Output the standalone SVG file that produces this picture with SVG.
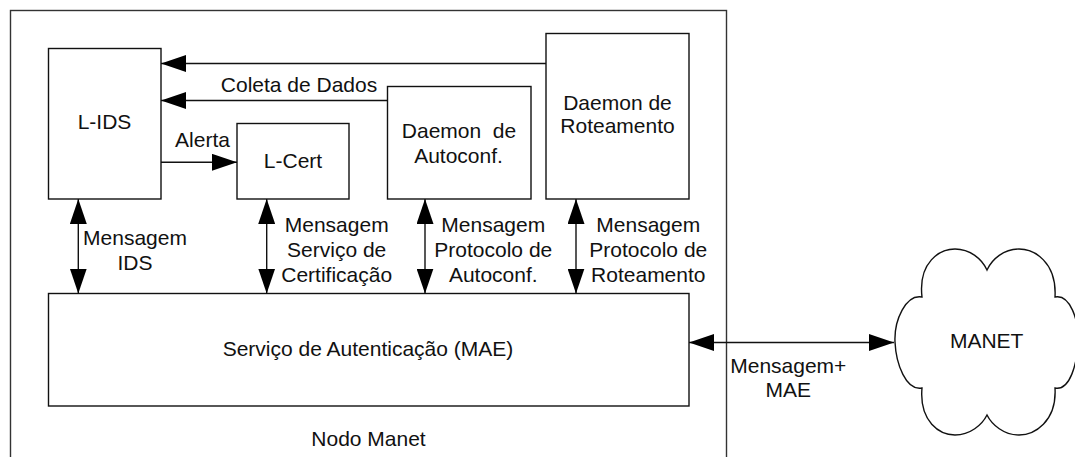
<svg xmlns="http://www.w3.org/2000/svg" width="1075" height="457" viewBox="0 0 1075 457">
  <defs>
    <style>
      .box { fill: #fff; stroke: #111; stroke-width: 1.4; }
      .frame { fill: none; stroke: #333; stroke-width: 1.4; }
      .wire { fill: none; stroke: #111; stroke-width: 1.4; }
      .lbl { font-family: "Liberation Sans", Arial, sans-serif; font-size: 21px; fill: #111; text-anchor: middle; white-space: pre; }
    </style>
    <marker id="tip" viewBox="0 0 25 17" refX="25" refY="8.5" markerWidth="25" markerHeight="17" markerUnits="userSpaceOnUse" orient="auto-start-reverse">
      <path d="M0,0 L25,8.5 L0,17 Z" fill="#000"/>
    </marker>
  </defs>

  <rect width="1075" height="457" fill="#fff"/>

  <!-- node container (open at the bottom edge) -->
  <g id="nodo-manet">
    <rect class="frame" x="10.5" y="10.5" width="716" height="470"/>
    <text class="lbl" x="368.5" y="446">Nodo Manet</text>
  </g>

  <g id="l-ids">
    <rect class="box" x="48.5" y="48.5" width="112.5" height="150.5"/>
    <text class="lbl" x="104.5" y="129">L-IDS</text>
  </g>

  <g id="l-cert">
    <rect class="box" x="237" y="123.5" width="112" height="75.5"/>
    <text class="lbl" x="293" y="168">L-Cert</text>
  </g>

  <g id="daemon-autoconf">
    <rect class="box" x="387.5" y="86.5" width="143.5" height="112.5"/>
    <text class="lbl" x="459" y="138.3">Daemon  de</text>
    <text class="lbl" x="458.5" y="163.3">Autoconf.</text>
  </g>

  <g id="daemon-roteamento">
    <rect class="box" x="546" y="33.5" width="143" height="165.5"/>
    <text class="lbl" x="617.5" y="110">Daemon de</text>
    <text class="lbl" x="617.5" y="133.3">Roteamento</text>
  </g>

  <g id="mae">
    <rect class="box" x="48.5" y="293.5" width="640.5" height="112.5"/>
    <text class="lbl" x="368" y="356">Serviço de Autenticação (MAE)</text>
  </g>

  <g id="manet">
    <path class="wire" d="M922,297 C918,262 940,249 955,249 C970,249 982,259 987,270 C992,259 1004,249 1019,249 C1034,249 1057,262 1055,297 C1070,294 1079,320 1078,342 C1077,364 1070,391 1055,388 C1057,422 1034,435 1019,435 C1004,435 992,425 987,415 C982,425 970,435 955,435 C940,435 919,422 922,388 C906,391 896,364 895,342 C894,320 906,294 922,297 Z" fill="#fff"/>
    <text class="lbl" x="986.7" y="348.3">MANET</text>
  </g>

  <g id="connectors">
    <line class="wire" x1="546" y1="63.5" x2="161" y2="63.5" marker-end="url(#tip)"/>
    <line class="wire" x1="387.5" y1="100.5" x2="161" y2="100.5" marker-end="url(#tip)"/>
    <line class="wire" x1="161" y1="162.3" x2="237" y2="162.3" marker-end="url(#tip)"/>
    <line class="wire" x1="78.3" y1="199" x2="78.3" y2="293.5" marker-start="url(#tip)" marker-end="url(#tip)"/>
    <line class="wire" x1="266.7" y1="199" x2="266.7" y2="293.5" marker-start="url(#tip)" marker-end="url(#tip)"/>
    <line class="wire" x1="425" y1="199" x2="425" y2="293.5" marker-start="url(#tip)" marker-end="url(#tip)"/>
    <line class="wire" x1="576" y1="199" x2="576" y2="293.5" marker-start="url(#tip)" marker-end="url(#tip)"/>
    <line class="wire" x1="689" y1="342.5" x2="894" y2="342.5" marker-start="url(#tip)" marker-end="url(#tip)"/>

    <text class="lbl" x="299" y="91.7">Coleta de Dados</text>
    <text class="lbl" x="202.5" y="146.5">Alerta</text>

    <text class="lbl" x="135" y="245">Mensagem</text>
    <text class="lbl" x="135" y="270">IDS</text>

    <text class="lbl" x="336.7" y="231.7">Mensagem</text>
    <text class="lbl" x="336.7" y="256.7">Serviço de</text>
    <text class="lbl" x="336.7" y="281.7">Certificação</text>

    <text class="lbl" x="493.3" y="231.7">Mensagem</text>
    <text class="lbl" x="493.3" y="256.7">Protocolo de</text>
    <text class="lbl" x="493.3" y="281.7">Autoconf.</text>

    <text class="lbl" x="648.3" y="231.7">Mensagem</text>
    <text class="lbl" x="648.3" y="256.7">Protocolo de</text>
    <text class="lbl" x="648.3" y="281.7">Roteamento</text>

    <text class="lbl" x="788.3" y="373">Mensagem+</text>
    <text class="lbl" x="788.3" y="397">MAE</text>
  </g>
</svg>
